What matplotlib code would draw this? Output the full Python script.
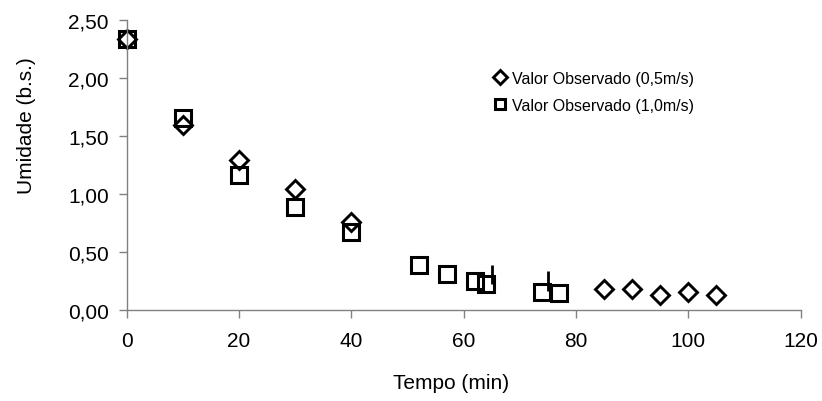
import matplotlib
matplotlib.use("Agg")
import matplotlib.pyplot as plt

plt.rcParams['font.family'] = ['Liberation Sans', 'DejaVu Sans']

# Data
tempo_05 = [0, 10, 20, 30, 40, 85, 90, 95, 100, 105]
umid_05 = [2.34, 1.59, 1.29, 1.04, 0.76, 0.18, 0.18, 0.13, 0.15, 0.13]

tempo_10 = [0, 10, 20, 30, 40, 52, 57, 62, 64, 74, 77]
umid_10 = [2.34, 1.65, 1.16, 0.89, 0.67, 0.39, 0.31, 0.25, 0.22, 0.155, 0.14]

# stray vertical strokes visible in the reference
stroke_x = [65.1, 75.0]
stroke_top = [0.39, 0.33]
stroke_bottom = [0.22, 0.16]

x_ticks = [0, 20, 40, 60, 80, 100, 120]
y_ticks = [0.0, 0.5, 1.0, 1.5, 2.0, 2.5]
y_tick_labels = ['0,00', '0,50', '1,00', '1,50', '2,00', '2,50']

label_05 = 'Valor Observado (0,5m/s)'
label_10 = 'Valor Observado (1,0m/s)'

fig = plt.figure(figsize=(8.22, 4.02), dpi=100)
ax = fig.add_axes([126.7 / 822, 1 - 310.7 / 402, (800.7 - 126.7) / 822, (310.7 - 21) / 402])

ax.plot(tempo_05, umid_05, linestyle='none', marker='D', markersize=9.5,
        markerfacecolor='none', markeredgecolor='black', markeredgewidth=2.1,
        label=label_05, clip_on=False)
ax.plot(tempo_10, umid_10, linestyle='none', marker='s', markersize=11,
        markerfacecolor='none', markeredgecolor='black', markeredgewidth=2.2,
        label=label_10, clip_on=False)
ax.vlines(stroke_x, stroke_bottom, stroke_top, colors='black', linewidth=2.0)

ax.set_xlim(0, 120)
ax.set_ylim(0, 2.5)
ax.set_xticks(x_ticks)
ax.set_xticklabels([str(v) for v in x_ticks])
ax.set_yticks(y_ticks)
ax.set_yticklabels(y_tick_labels)

for s in ['top', 'right']:
    ax.spines[s].set_visible(False)
for s in ['left', 'bottom']:
    ax.spines[s].set_color('#808080')
    ax.spines[s].set_linewidth(1.0)

ax.tick_params(axis='both', direction='out', length=6, width=1.0, color='#808080',
               labelsize=15, labelcolor='black', pad=7)
ax.tick_params(axis='x', pad=9)

ax.set_xlabel('Tempo (min)', fontsize=15)
ax.xaxis.label.set_va('center')
ax.xaxis.set_label_coords(0.481, -0.25)
ax.set_ylabel('Umidade (b.s.)', fontsize=15)
ax.yaxis.label.set_va('center')
ax.yaxis.set_label_coords(-0.148, 0.64)

leg = ax.legend(loc='upper left', bbox_to_anchor=(494 / 822, 1 - 72 / 402),
                bbox_transform=fig.transFigure, frameon=False, fontsize=11.5,
                handlelength=0.8, handletextpad=0.3, labelspacing=0.75,
                markerscale=0.7, borderaxespad=0, borderpad=0)

fig.savefig('out.png', dpi=100)
